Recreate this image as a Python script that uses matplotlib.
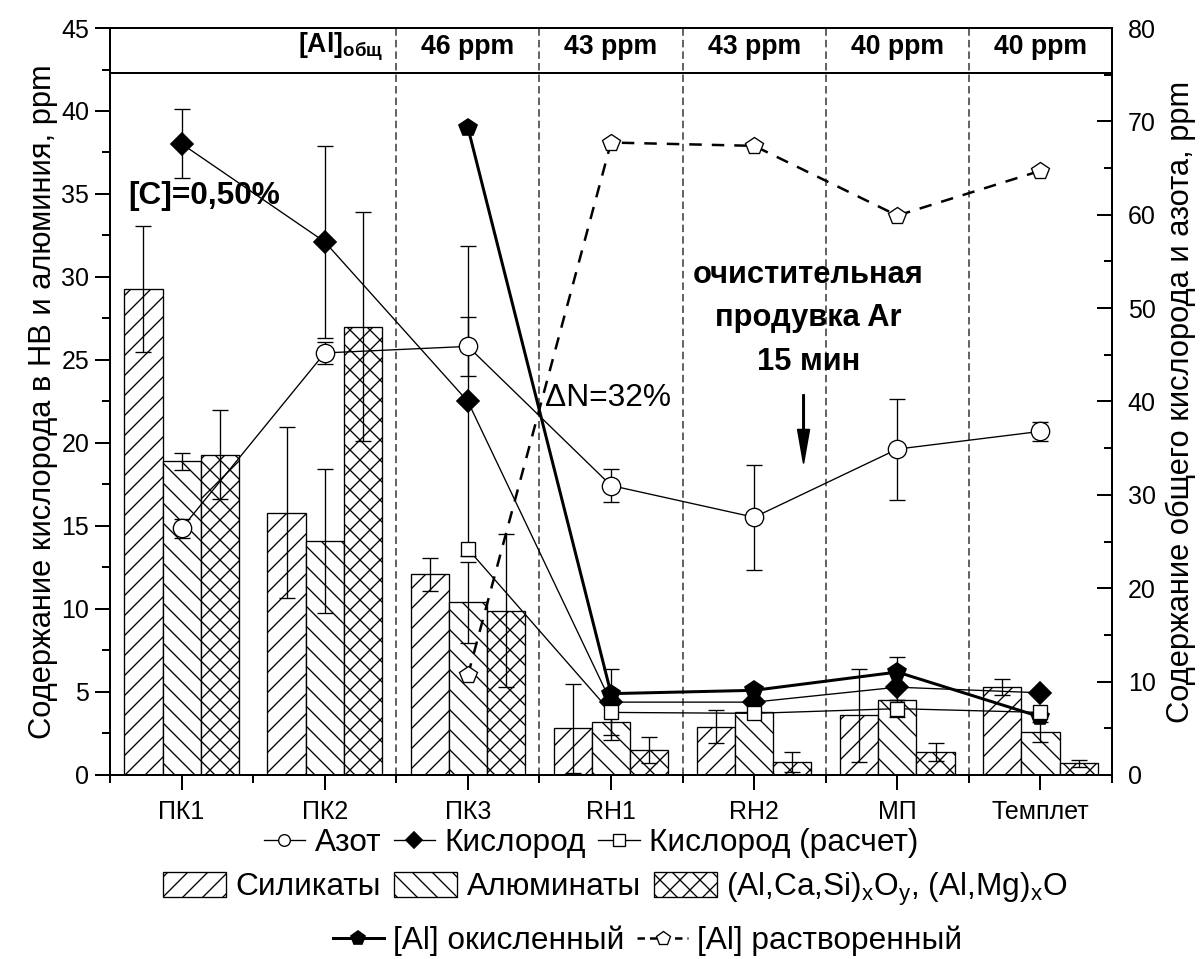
import numpy as np
import matplotlib.pyplot as plt
from matplotlib.lines import Line2D
from matplotlib.patches import Patch

plt.rcParams['font.family'] = ['Liberation Sans', 'DejaVu Sans']
plt.rcParams['mathtext.fontset'] = 'custom'
plt.rcParams['mathtext.rm'] = 'Liberation Sans'
plt.rcParams['mathtext.it'] = 'Liberation Sans:italic'
plt.rcParams['mathtext.bf'] = 'Liberation Sans:bold'
plt.rcParams['hatch.linewidth'] = 0.8

stages = ['ПК1', 'ПК2', 'ПК3', 'RH1', 'RH2', 'МП', 'Темплет']
al_total = ['46 ppm', '43 ppm', '43 ppm', '40 ppm', '40 ppm']

# inclusions, left axis
silicates = [29.3, 15.8, 12.1, 2.8, 2.9, 3.6, 5.3]
silicates_err = [3.8, 5.15, 1.0, 2.7, 1.0, 2.8, 0.5]
aluminates = [18.9, 14.1, 10.4, 3.2, 3.8, 4.5, 2.6]
aluminates_err = [0.5, 4.35, 2.45, 1.1, 0.0, 0.0, 0.6]
complex_ox = [19.3, 27.0, 9.9, 1.5, 0.8, 1.4, 0.7]
complex_err = [2.7, 6.9, 4.6, 0.8, 0.6, 0.55, 0.2]

# aluminium, left axis
al_oxid = [np.nan, np.nan, 39.0, 4.9, 5.1, 6.2, 3.5]
al_diss = [np.nan, np.nan, 6.0, 38.1, 37.9, 33.7, 36.4]

# gases, right axis
nitrogen = [26.4, 45.2, 45.9, 31.0, 27.6, 34.9, 36.8]
nitrogen_err = [1.0, 1.2, 3.2, 1.8, 5.6, 5.4, 1.05]
oxygen = [67.6, 57.1, 40.0, 7.8, 7.8, 9.4, 8.8]
oxygen_err = [3.7, 10.3, 16.6, 3.5, 0.0, 3.2, 0.0]
oxygen_calc = [np.nan, np.nan, 24.2, 6.7, 6.6, 7.1, 6.7]

x = np.arange(len(stages))
bw = 0.267

fig = plt.figure(figsize=(1204 / 120, 959 / 120), dpi=120)
ax = fig.add_axes([0.0914, 0.1919, 0.8322, 0.7789])
ax2 = ax.twinx()

ekw = dict(ecolor='black', elinewidth=0.8, capsize=5, capthick=0.8)
ax.bar(x - bw, silicates, bw, yerr=silicates_err, facecolor='white',
       edgecolor='black', linewidth=0.8, hatch='//', error_kw=ekw, zorder=2)
ax.bar(x, aluminates, bw, yerr=aluminates_err, facecolor='white',
       edgecolor='black', linewidth=0.8, hatch='\\\\', error_kw=ekw, zorder=2)
ax.bar(x + bw, complex_ox, bw, yerr=complex_err, facecolor='white',
       edgecolor='black', linewidth=0.8, hatch='xx', error_kw=ekw, zorder=2)

for v in np.arange(1.5, 6, 1):
    ax.axvline(v, color='#333333', lw=0.9, ls=(0, (5, 2.7)), zorder=1)
ax.axhline(42.3, color='black', lw=1.2, zorder=3)

ax.plot(x, al_oxid, color='black', lw=1.8, marker='p', ms=11, zorder=5)
ax.plot(x, al_diss, color='black', lw=1.5, ls=(0, (5, 4)), marker='p', ms=11,
        mfc='white', mec='black', mew=0.8, zorder=5)

ax2.plot(x, nitrogen, color='black', lw=0.8, marker='o', ms=11,
         mfc='white', mec='black', mew=0.8, zorder=4)
ax2.errorbar(x, nitrogen, yerr=nitrogen_err, fmt='none', **ekw)
ax2.plot(x, oxygen, color='black', lw=0.8, marker='D', ms=9, mfc='black', zorder=4)
oe = np.array(oxygen_err)
ax2.errorbar(x[oe > 0], np.array(oxygen)[oe > 0], yerr=oe[oe > 0], fmt='none', **ekw)
ax2.plot(x, oxygen_calc, color='black', lw=0.8, marker='s', ms=8,
         mfc='white', mec='black', mew=0.8, zorder=4)

# header row with total aluminium
ax.text(1.41, 43.85, r'[Al]$_{\mathbf{общ}}$', ha='right', va='center',
        fontsize=16, fontweight='bold')
for xi, s in zip(x[2:], al_total):
    ax.text(xi, 43.85, s, ha='center', va='center', fontsize=16, fontweight='bold')

ax.text(-0.37, 34.9, '[C]=0,50%', ha='left', va='center', fontsize=19, fontweight='bold')
ax.text(2.54, 22.7, 'ΔN=32%', ha='left', va='center', fontsize=19)
ax.text(4.38, 27.5, 'очистительная\nпродувка Ar\n15 мин', ha='center', va='center',
        fontsize=18.5, fontweight='bold', linespacing=1.6)
ax.annotate('', xy=(4.345, 18.8), xytext=(4.345, 22.9),
            arrowprops=dict(facecolor='black', edgecolor='black', width=0.8,
                            headwidth=7, headlength=20))

ax.set_xlim(-0.5, 6.5)
ax.set_ylim(0, 45)
ax2.set_ylim(0, 80)
ax.set_xticks(x)
ax.set_xticklabels(stages)
ax.set_xticks(np.arange(-0.5, 7, 1), minor=True)
ax.set_yticks(np.arange(0, 46, 5))
ax.set_yticks(np.arange(0, 46, 2.5), minor=True)
ax2.set_yticks(np.arange(0, 81, 10))
ax2.set_yticks(np.arange(0, 81, 5), minor=True)

ax.tick_params(which='major', direction='out', length=9, width=1.2, labelsize=15, top=False)
ax.tick_params(which='minor', direction='out', length=5, width=1.2, top=False)
ax.tick_params(axis='x', pad=6)
ax2.tick_params(which='major', direction='in', length=9, width=1.2, labelsize=15, pad=9.5)
ax2.tick_params(which='minor', direction='in', length=5, width=1.2)
for sp in ax.spines.values():
    sp.set_linewidth(1.2)
for sp in ax2.spines.values():
    sp.set_linewidth(1.2)

ax.set_ylabel('Содержание кислорода в НВ и алюминия, ppm', fontsize=18.5, labelpad=2)
ax2.set_ylabel('Содержание общего кислорода и азота, ppm', fontsize=18.5, labelpad=6)

# legends, three rows
row1 = [Line2D([], [], color='black', lw=0.8, marker='o', ms=7, mfc='white', mec='black', mew=0.8),
        Line2D([], [], color='black', lw=0.8, marker='D', ms=7, mfc='black'),
        Line2D([], [], color='black', lw=0.8, marker='s', ms=7, mfc='white', mec='black', mew=0.8)]
fig.legend(row1, ['Азот', 'Кислород', 'Кислород (расчет)'], loc='center',
           bbox_to_anchor=(0.491, 0.121), ncol=3, frameon=False, fontsize=19,
           handlelength=1.3, handletextpad=0.3, columnspacing=0.4,
           borderpad=0, borderaxespad=0)

row2 = [Patch(facecolor='white', edgecolor='black', hatch='//', lw=0.8),
        Patch(facecolor='white', edgecolor='black', hatch='\\\\', lw=0.8),
        Patch(facecolor='white', edgecolor='black', hatch='xx', lw=0.8)]
fig.legend(row2, ['Силикаты', 'Алюминаты',
                  r'(Al,Ca,Si)$_\mathrm{x}$O$_\mathrm{y}$, (Al,Mg)$_\mathrm{x}$O'],
           loc='center', bbox_to_anchor=(0.511, 0.073), ncol=3, frameon=False,
           fontsize=19, handlelength=2.0, handleheight=0.8, handletextpad=0.3,
           columnspacing=0.4, borderpad=0, borderaxespad=0)

row3 = [Line2D([], [], color='black', lw=1.8, marker='p', ms=9),
        Line2D([], [], color='black', lw=1.5, ls=(0, (3, 2)), marker='p', ms=9,
               mfc='white', mec='black', mew=0.8)]
fig.legend(row3, ['[Al] окисленный', '[Al] растворенный'], loc='center',
           bbox_to_anchor=(0.538, 0.019), ncol=2, frameon=False, fontsize=19,
           handlelength=1.6, handletextpad=0.3, columnspacing=0.4,
           borderpad=0, borderaxespad=0)

fig.savefig('out.png', dpi=120)
